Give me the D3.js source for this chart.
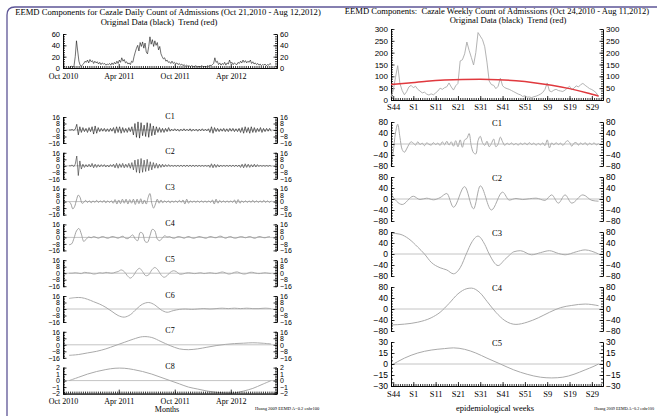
<!DOCTYPE html>
<html>
<head>
<meta charset="utf-8">
<script src="https://cdn.jsdelivr.net/npm/d3@7"></script>
<style>
body{margin:0;background:#fff;}
</style>
</head>
<body>
<script>
// ---------- left: daily series, sampled every `step` days from Oct 21 2010 ----------
const dailyStart = new Date(2010, 9, 21);
const monthTicks = [new Date(2010,9,1), new Date(2011,3,1), new Date(2011,9,1), new Date(2012,3,1)];
const monthLabels = ["Oct 2010","Apr 2011","Oct 2011","Apr 2012"];

const origDaily = [1,2,3,1,4,20,48,30,12,5,3,6,8,12,10,14,9,15,11,13,8,12,9,11,7,10,6,9,7,8,5,7,
  6,8,5,9,6,10,7,12,8,14,10,18,12,15,9,11,7,9,6,12,10,20,28,35,40,30,45,38,46,35,44,28,
  25,38,55,42,50,38,48,40,45,32,38,25,20,16,18,12,14,10,11,8,12,8,10,7,9,6,8,5,
  7,4,6,3,5,3,4,2,4,3,2,4,3,2,3,2,4,3,2,3,2,4,3,5,4,6,8,18,10,12,6,9,5,8,6,10,
  5,9,7,14,8,10,6,9,7,6,10,8,12,9,14,10,13,9,12,10,14,8,11,7,9,6,8,5,7,4,6,5,7,4,6,5,8,6];

const c1Daily = [0,0,0.5,-0.5,1,7,-6,4,-3,3,-2,2,-3,3,-2,4,-5,5,-4,3,-2,2,-1.5,2,-2,1.5,-2,2,-1.5,
  3,-4,4,-3,4,-4,3,-3,2,-3,3,-2,4,-6,8,-9,10,-10,9,-7,6,-8,9,-9,8,-7,5,-6,4,
  -3,3,-3,2,-3,2,-2,3,-1.5,1,-1,1.5,-1,1,-1.5,1,-1,1.5,-1,1,-1,1.5,-1.5,1,-1,1,-1.5,1,-1,1.5,-1,1,-1,1.5,
  -3,4,-4,3,-2,2,-2,1.5,-1.5,2,-2,1.5,-2,2,-1.5,2,-2,1.5,-2,2,
  -3,3,-4,4,-3,3,-4,4,-3,3,-3,2,-2,3,-3,2,-2,2,-1.5,2,-1.5];

const c2Daily = [0,0,1,-1,2,12,-12,6,-4,2,-2,1.5,-1.5,2,-1.5,3,-2.5,2,-2,1.5,-1.5,
  1.5,-1,1.5,-1.5,1,-1.5,1.5,-1,2,-2.5,3,-3,2.5,-2,3,-2.5,2,-2,3,-3,4,
  -5,7,-8,8,-9,9,-8,7,-7,8,-6,5,-5,4,-3,3,-3,2,-2,2,-1.5,1.5,-1,1.5,
  -1,1,-1,1,-1,1,-1,1,-1,1,-1,1,-1,1,-1,1,-1,1,-1,1,-1,1,-1,1,-1,1,
  -2,2.5,-2.5,2,-2,1.5,-1.5,1,-1,1,-1,1,-1,1,-1,1,-1,1,-1,1,
  -2,2,-2.5,2.5,-2,2,-2,1.5,-1.5,2,-1.5,1.5,-1,1,-1,1,-1,1,-1,1,-1];

const c3Daily = [0,-3,-9,-6,2,8,5,-2,-1,1.5,-1,1,-1.5,1,-1,1.5,-1,1,-1,1.5,-1.5,1,-1,1,
  -2,2.5,-3,2,-2.5,3,-2,3,-3,2.5,-2,3,-3.5,3,-2.5,3.5,-3,2,-3,5,10,-2,-8,-3,3,-2,2,-1.5,
  1,-1,1,-1.5,1,-1,1,-1,1.5,-1,2,-3,3,-2,1,-1,1,-1,1,-1,1,-1,1,-1,1,-1,
  2,-3,3,-2,1.5,-1,1,-1,1,-1,1,-1,2,-2.5,2.5,-2,1,-1,
  1,-1,1,-1,1.5,-1,1,-1,1,-1,1.5,-1,1,-1,1];

const c4Daily = [-9,-8,-1,8,11,4,-5,-2,0.5,-0.5,1,0,-1,0.5,1,-0.5,-1,0.5,1,0,-1,0.5,1.5,-1,-1.5,1,
  3,-2,-4,6,5,-5,-6,2,10,8,-2,-4,-1,2,
  0.5,1,-0.5,-1,0.5,1,0,-1,0.5,1,-0.5,-1,0,1,0.5,-0.5,-1,0.5,1,0,-0.5,1,1.5,0,-1,0.5,1,
  -0.5,-1,0,1,0.5,-0.5,0.5,1,-0.5,-1,0.5,1,0,-0.5,0.5,1];

const c5Daily = [0,0,0.5,0,-0.5,1,0.5,0,-1,-0.5,0.5,0,1,0.5,0,1,2,4,2,-3,-6,-3,3,6,2,-3,-2,4,7,4,-2,-5,-3,1,3,2,-1,-1,0,
  0.5,0,-0.5,0,0.5,-0.5,0,0.5,0,-0.5,0.5,1.5,0.5,-1,-0.5,1,1.5,0,-1,-0.5,1,1,0,-0.5,0,0.5,0,-0.5];

const c6Daily = [13,14,14,12,9,6,2,-3,-8,-10,-7,0,6,8,5,-1,-4,-2,-0.5,0,-0.5,0,0.5,0,0.5,1,0.5,1,0.5,1,0.5,0.5,1,0.5];
const c7Daily = [-13,-12,-10,-8,-5,-1,3,7,10,9,4,-1,-5,-6,-5,-3,-1,0.5,1.5,2,2.5,2,1];
const c8Daily = [0,0.5,1,1.4,1.7,1.9,1.9,1.7,1.4,1,0.5,0,-0.5,-1,-1.3,-1.6,-1.8,-1.9,-1.9,-1.6,-1.2,-0.6,0];

// ---------- right: weekly series, week index 0 = S43 of 2010 ----------
const weekTickIdx = [1,10,20,30,40,50,60,70,80,90];
const weekTickLabels = ["S44","S1","S11","S21","S31","S41","S51","S9","S19","S29"];

const origWeekly = [12,40,95,145,70,40,22,35,55,62,52,58,45,38,30,33,25,21,26,22,30,38,50,45,52,56,72,55,42,60,
  70,165,170,195,245,210,180,148,200,285,270,255,225,160,80,65,62,48,58,92,60,52,48,45,40,35,30,25,22,15,
  18,12,13,10,14,16,20,25,32,45,72,38,35,42,45,40,38,36,42,50,58,44,50,60,55,65,70,62,55,48,44,38,30,14];
const trendWeekly = [[0,65],[8,72],[16,79],[24,84],[32,87],[40,88],[48,86],[56,81],[64,73],[72,62],[80,48],[88,30],[93,17]];

const c1Weekly = [-80,-30,40,72,25,-20,-30,-18,-2,8,3,-4,8,-2,3,-6,4,-1,-4,5,-2,3,-5,8,-3,10,-4,8,-8,12,
  -10,15,-12,15,20,38,-8,-32,-36,12,28,5,-5,10,-10,2,18,-10,0,25,8,-5,3,-2,4,-3,2,-4,3,-2,
  4,-3,5,-2,3,-4,2,-3,4,-6,15,-14,4,-3,5,-2,3,-5,4,12,6,-8,3,5,-4,4,-2,5,-4,3,-2,4,-3,2];
const c2Weekly = [[0,18],[5,-20],[10,10],[13,-2],[16,3],[19,-3],[22,5],[25,20],[28,-30],[33,45],[37,-36],[40,48],
  [45,-40],[50,25],[53,-4],[56,2],[59,-2],[62,1],[65,3],[69,-5],[72,15],[75,-15],[78,15],[81,-15],[86,15],[90,-5],[93,-8]];
const c3Weekly = [[0,76],[4,72],[8,55],[12,25],[15,0],[18,-30],[22,-50],[25,-58],[28,-72],[31,-50],[34,5],[36,40],[39,65],
  [42,35],[44,0],[48,-42],[51,-20],[53,-5],[55,8],[58,12],[63,-3],[67,5],[71,12],[75,2],[78,-3],[83,8],[87,15],[90,10],[93,0]];
const c4Weekly = [[0,-58],[6,-55],[12,-48],[18,-32],[22,-12],[26,20],[30,55],[34,74],[36,76],[40,58],[43,28],[47,-12],
  [51,-42],[56,-56],[61,-48],[66,-32],[71,-12],[76,5],[81,13],[87,18],[93,12]];
const c5Weekly = [[0,-2],[6,8],[12,15],[18,19],[24,21],[28,22],[33,20],[38,15],[43,8],[49,0],[55,-8],[61,-14],
  [67,-18],[72,-19],[77,-18],[82,-14],[87,-8],[91,-3],[93,0]];

// ---------- setup ----------
const w = 657, h = 416;
const serif = '"Liberation Serif","Times New Roman",serif';
const sans = '"Liberation Sans",Arial,sans-serif';
const svg = d3.select("body").append("svg").attr("width", w).attr("height", h);

// frame
svg.append("path").attr("d", "M7,416V15Q7,7 15,7H657")
  .attr("fill", "none").attr("stroke", "#5d5596").attr("stroke-width", 1.3);

function styleAxis(a, font, fs){
  a.selectAll("line,path").attr("stroke-width", 0.8);
  a.selectAll("text").attr("font-family", font).attr("font-size", fs).attr("fill", "#000");
}

// y axes on both sides, ticks pointing in
function yAxes(y, xl, xr, major, minor, fs){
  [[d3.axisLeft, xl], [d3.axisRight, xr]].forEach(([ax, x]) => {
    svg.append("g").attr("transform", `translate(${x},0)`)
      .call(ax(y).tickValues(minor).tickSize(-2).tickSizeOuter(0).tickFormat(""))
      .call(styleAxis, sans, fs);
    svg.append("g").attr("transform", `translate(${x},0)`)
      .call(ax(y).tickValues(major).tickSize(-3.5).tickSizeOuter(0).tickPadding(3).tickFormat(d3.format("d")))
      .call(styleAxis, sans, fs);
  });
}

function xAxis(x, y0, major, labels, minor, pad, fs){
  svg.append("g").attr("transform", `translate(0,${y0})`)
    .call(d3.axisBottom(x).tickValues(minor).tickSize(-2).tickSizeOuter(0).tickFormat(""))
    .call(styleAxis, serif, fs);
  svg.append("g").attr("transform", `translate(0,${y0})`)
    .call(d3.axisBottom(x).tickValues(major).tickSize(-4).tickSizeOuter(0).tickPadding(pad).tickFormat((d,i) => labels[i]))
    .call(styleAxis, serif, fs);
}

function zeroLine(x, y){
  svg.append("line").attr("x1", x.range()[0]).attr("x2", x.range()[1])
    .attr("y1", y(0)).attr("y2", y(0)).attr("stroke", "#c4c4c4").attr("stroke-width", 1);
}

function drawLine(pts, x, y, color, width, curve){
  svg.append("path").datum(pts)
    .attr("fill", "none").attr("stroke", color).attr("stroke-width", width).attr("stroke-linejoin", "round")
    .attr("d", d3.line().x(d => x(d[0])).y(d => y(d[1])).curve(curve || d3.curveLinear));
}

function txt(x, y, s, fs, anchor){
  svg.append("text").attr("x", x).attr("y", y).attr("font-family", serif).attr("font-size", fs)
    .attr("text-anchor", anchor || "middle").style("white-space", "pre").text(s);
}

// ---------- left panel ----------
const xDay = d3.scaleTime().domain([new Date(2010,9,1), new Date(2012,7,30)]).range([63, 277]);
const daily = (vals, step) => vals.map((v, i) => [d3.timeDay.offset(dailyStart, i*step), v]);
const weekMarks = d3.timeWeek.range(xDay.domain()[0], xDay.domain()[1]);

txt(168, 15, "EEMD Components for Cazale Daily Count of Admissions (Oct 21,2010 - Aug 12,2012)", 8.6);
txt(159, 25, "Original Data (black)  Trend (red)", 8.6);

const yOrig = d3.scaleLinear().domain([0, 60]).range([68, 34]);
yAxes(yOrig, 63, 277, [0,20,40,60], d3.range(0, 61, 4), 7.5);
xAxis(xDay, 68, monthTicks, monthLabels, weekMarks, 5, 8);
drawLine(daily(origDaily, 4), xDay, yOrig, "#111", 0.6);

const leftComps = [
  {name:"C1", vals:c1Daily, step:5, lim:16, color:"#111", width:0.6, curve:d3.curveLinear},
  {name:"C2", vals:c2Daily, step:5, lim:16, color:"#333", width:0.6, curve:d3.curveLinear},
  {name:"C3", vals:c3Daily, step:6, lim:16, color:"#888", width:0.8, curve:d3.curveCatmullRom},
  {name:"C4", vals:c4Daily, step:8, lim:16, color:"#999", width:0.9, curve:d3.curveCatmullRom},
  {name:"C5", vals:c5Daily, step:10, lim:16, color:"#aaa", width:1, curve:d3.curveCatmullRom},
  {name:"C6", vals:c6Daily, step:20, lim:16, color:"#aaa", width:1, curve:d3.curveCatmullRom},
  {name:"C7", vals:c7Daily, step:30, lim:16, color:"#aaa", width:1, curve:d3.curveCatmullRom},
  {name:"C8", vals:c8Daily, step:30, lim:2, color:"#aaa", width:1, curve:d3.curveCatmullRom}
];

leftComps.forEach((c, i) => {
  const top = 117 + i*35.8, bot = top + 26;
  const y = d3.scaleLinear().domain([-c.lim, c.lim]).range([bot, top]);
  const major = c.lim === 2 ? [-2,-1,0,1,2] : [-16,-8,0,8,16];
  const minor = c.lim === 2 ? d3.range(-2, 2.01, 0.25) : d3.range(-16, 17, 2);
  zeroLine(xDay, y);
  drawLine(daily(c.vals, c.step), xDay, y, c.color, c.width, c.curve);
  yAxes(y, 63, 277, major, minor, 7);
  txt(170, top + 1.5, c.name, 8);
  if (i === leftComps.length - 1) xAxis(xDay, bot, monthTicks, monthLabels, weekMarks, 5, 8);
});
txt(167, 412, "Months", 8);
txt(255, 410, "Huang 2009 EEMD A=0.2 enhr100", 4.5, "start");

// ---------- right panel ----------
const xWeek = d3.scaleLinear().domain([0, 95]).range([391, 603]);
const weekly = vals => vals.map((v, i) => [i, v]);
const allWeeks = d3.range(0, 96, 1);

txt(497, 14, "EEMD Components:  Cazale Weekly Count of Admissions (Oct 24,2010 - Aug 11,2012)", 8.6);
txt(508, 23, "Original Data (black)  Trend (red)", 8.6);

const yW = d3.scaleLinear().domain([0, 300]).range([100, 29]);
yAxes(yW, 391, 603, [0,50,100,150,200,250,300], d3.range(0, 301, 10), 8);
xAxis(xWeek, 100, weekTickIdx, weekTickLabels, allWeeks, 4, 8.5);
drawLine(weekly(origWeekly), xWeek, yW, "#aaa", 0.9);
drawLine(trendWeekly, xWeek, yW, "#e0393e", 1.5, d3.curveMonotoneX);

const rightComps = [
  {name:"C1", pts:weekly(c1Weekly), lim:80, curve:d3.curveCatmullRom},
  {name:"C2", pts:c2Weekly, lim:80, curve:d3.curveMonotoneX},
  {name:"C3", pts:c3Weekly, lim:80, curve:d3.curveMonotoneX},
  {name:"C4", pts:c4Weekly, lim:80, curve:d3.curveMonotoneX},
  {name:"C5", pts:c5Weekly, lim:30, curve:d3.curveMonotoneX}
];

rightComps.forEach((c, i) => {
  const top = 122 + i*55, bot = top + 44;
  const y = d3.scaleLinear().domain([-c.lim, c.lim]).range([bot, top]);
  const major = c.lim === 30 ? [-30,-15,0,15,30] : [-80,-40,0,40,80];
  const minor = c.lim === 30 ? d3.range(-30, 31, 5) : d3.range(-80, 81, 10);
  zeroLine(xWeek, y);
  drawLine(c.pts, xWeek, y, "#aaa", 1, c.curve);
  yAxes(y, 391, 603, major, minor, 8.5);
  txt(497, top + 4, c.name, 8.5);
  if (i === rightComps.length - 1) xAxis(xWeek, bot, weekTickIdx, weekTickLabels, allWeeks, 5, 8.5);
});
txt(495, 411, "epidemiological weeks", 8.5);
txt(654, 410, "Huang 2009 EEMD A=0.2 enhr100", 4.2, "end");
</script>
</body>
</html>
